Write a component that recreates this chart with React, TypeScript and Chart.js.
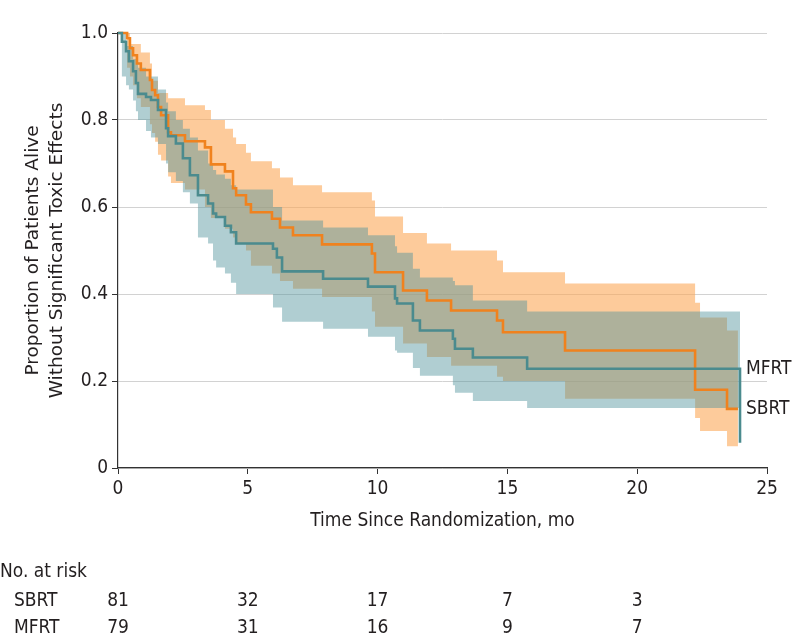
import React, { useEffect, useRef } from 'react';
import { Chart, registerables } from 'chart.js';

Chart.register(...registerables);

// ---------- data ----------
const xTickValues = [0, 5, 10, 15, 20, 25];
const xTickLabels = ['0', '5', '10', '15', '20', '25'];
const yTickValues = [0, 0.2, 0.4, 0.6, 0.8, 1.0];
const yTickLabels = ['0', '0.2', '0.4', '0.6', '0.8', '1.0'];

const xTitle = 'Time Since Randomization, mo';
const yTitle = ['Proportion of Patients Alive', 'Without Significant Toxic Effects'];

// SBRT (orange)
const sbrtTimes = [0, 0.35, 0.46, 0.58, 0.73, 0.88, 1.23, 1.31, 1.43, 1.54, 1.66, 1.93, 2.04, 2.58, 3.35, 3.58, 4.12, 4.43, 4.55, 4.93, 5.12, 5.93, 6.24, 6.74, 7.86, 9.78, 9.9, 10.98, 11.9, 12.83, 14.6, 14.83, 17.22, 22.23, 22.42, 23.46, 23.88];
const sbrtSurvival = [1.0, 0.988, 0.965, 0.949, 0.93, 0.915, 0.892, 0.869, 0.857, 0.83, 0.811, 0.772, 0.765, 0.751, 0.737, 0.698, 0.682, 0.643, 0.627, 0.606, 0.588, 0.573, 0.553, 0.535, 0.514, 0.493, 0.45, 0.408, 0.385, 0.362, 0.339, 0.312, 0.27, 0.18, 0.18, 0.136, 0.136];
const sbrtUpper = [1.0, 1.0, 0.975, 0.975, 0.975, 0.955, 0.93, 0.89, 0.89, 0.862, 0.862, 0.85, 0.85, 0.834, 0.823, 0.8, 0.78, 0.76, 0.745, 0.725, 0.705, 0.689, 0.668, 0.65, 0.634, 0.615, 0.578, 0.54, 0.516, 0.5, 0.477, 0.45, 0.424, 0.38, 0.346, 0.316, 0.316];
const sbrtLower = [1.0, 0.92, 0.9, 0.88, 0.85, 0.83, 0.79, 0.77, 0.75, 0.72, 0.707, 0.67, 0.655, 0.64, 0.6, 0.575, 0.55, 0.53, 0.515, 0.5, 0.465, 0.447, 0.43, 0.412, 0.393, 0.36, 0.325, 0.286, 0.255, 0.235, 0.21, 0.2, 0.159, 0.115, 0.085, 0.05, 0.05];

// MFRT (teal)
const mfrtTimes = [0, 0.15, 0.31, 0.42, 0.58, 0.69, 0.77, 1.08, 1.27, 1.54, 1.85, 1.93, 2.23, 2.5, 2.77, 3.08, 3.47, 3.66, 3.78, 4.12, 4.35, 4.55, 5.97, 6.12, 6.32, 7.9, 9.63, 10.67, 10.75, 11.36, 11.63, 12.9, 12.98, 13.67, 15.76, 23.96];
const mfrtSurvival = [1.0, 0.98, 0.958, 0.935, 0.912, 0.885, 0.86, 0.853, 0.846, 0.823, 0.781, 0.763, 0.746, 0.712, 0.673, 0.627, 0.608, 0.585, 0.577, 0.557, 0.542, 0.516, 0.504, 0.484, 0.452, 0.435, 0.417, 0.39, 0.378, 0.339, 0.316, 0.297, 0.274, 0.254, 0.228, 0.058];
const mfrtUpper = [1.0, 1.0, 0.97, 0.97, 0.94, 0.94, 0.92, 0.9, 0.9, 0.87, 0.84, 0.82, 0.8, 0.78, 0.76, 0.73, 0.7, 0.685, 0.675, 0.665, 0.65, 0.64, 0.6, 0.6, 0.569, 0.553, 0.535, 0.51, 0.495, 0.458, 0.438, 0.43, 0.42, 0.385, 0.36, 0.36];
const mfrtLower = [1.0, 0.9, 0.88, 0.87, 0.845, 0.82, 0.8, 0.775, 0.76, 0.745, 0.7, 0.68, 0.66, 0.634, 0.608, 0.53, 0.516, 0.477, 0.461, 0.447, 0.426, 0.4, 0.369, 0.369, 0.336, 0.32, 0.302, 0.27, 0.265, 0.23, 0.212, 0.19, 0.173, 0.154, 0.138, 0.138];

// Number at risk
const riskTimes = [0, 5, 10, 15, 20];
const riskHeader = 'No. at risk';
const groupNames = ['SBRT', 'MFRT'];
const sbrtAtRisk = [81, 32, 17, 7, 3];
const mfrtAtRisk = [79, 31, 16, 9, 7];

// ---------- styles ----------
const FONT = "'DejaVu Sans Condensed', 'DejaVu Sans', sans-serif";
const TITLE_FONT = "'DejaVu Sans', sans-serif";
const FS = 19;
const TEXT = '#231f20';
const ORANGE = '#f0821e';
const TEAL = '#4b8b8e';
const ORANGE_BAND = 'rgba(252,168,88,0.6)';
const TEAL_BAND = 'rgba(83,148,157,0.46)';

const pts = (xs: number[], ys: number[]) => xs.map((x, i) => ({ x, y: ys[i] }));

const annotations = {
  id: 'kmAnnotations',
  afterDraw(chart: any) {
    const { ctx, scales, chartArea } = chart;
    const xs = scales.x;
    const ys = scales.y;
    ctx.save();
    ctx.fillStyle = TEXT;
    ctx.font = `${FS}px ${FONT}`;
    ctx.textBaseline = 'middle';

    // curve end labels
    ctx.textAlign = 'left';
    const mLast = mfrtTimes.length - 1;
    const endX = xs.getPixelForValue(mfrtTimes[mLast]) + 6;
    ctx.fillText(groupNames[1], endX, ys.getPixelForValue(mfrtSurvival[mLast - 1]));
    const sLast = sbrtTimes.length - 1;
    ctx.fillText(groupNames[0], endX, ys.getPixelForValue(sbrtSurvival[sLast]));

    // risk table
    const base = chartArea.bottom;
    ctx.fillText(riskHeader, 0, base + 104);
    ctx.fillText(groupNames[0], 14, base + 133);
    ctx.fillText(groupNames[1], 14, base + 160);
    ctx.textAlign = 'center';
    riskTimes.forEach((t, i) => {
      const px = xs.getPixelForValue(t);
      ctx.fillText(String(sbrtAtRisk[i]), px, base + 133);
      ctx.fillText(String(mfrtAtRisk[i]), px, base + 160);
    });
    ctx.restore();
  },
};

export default function App() {
  const ref = useRef<HTMLCanvasElement>(null);
  useEffect(() => {
    document.body.style.margin = '0';
    document.body.style.overflow = 'hidden';
    const bandCommon = { borderWidth: 0, pointRadius: 0, stepped: true as const, tension: 0 };
    const chart = new Chart(ref.current as HTMLCanvasElement, {
      type: 'line',
      data: {
        datasets: [
          { ...bandCommon, label: 'SBRT upper', data: pts(sbrtTimes, sbrtUpper), fill: '+1', backgroundColor: ORANGE_BAND, borderColor: 'transparent', order: 10 },
          { ...bandCommon, label: 'SBRT lower', data: pts(sbrtTimes, sbrtLower), fill: false, borderColor: 'transparent', order: 10 },
          { ...bandCommon, label: 'MFRT upper', data: pts(mfrtTimes, mfrtUpper), fill: '+1', backgroundColor: TEAL_BAND, borderColor: 'transparent', order: 9 },
          { ...bandCommon, label: 'MFRT lower', data: pts(mfrtTimes, mfrtLower), fill: false, borderColor: 'transparent', order: 9 },
          { label: 'SBRT', data: pts(sbrtTimes, sbrtSurvival), stepped: true, borderColor: ORANGE, borderWidth: 2.6, pointRadius: 0, fill: false, order: 2, clip: 4 },
          { label: 'MFRT', data: pts(mfrtTimes, mfrtSurvival), stepped: true, borderColor: TEAL, borderWidth: 2.6, pointRadius: 0, fill: false, order: 1, clip: 4 },
        ],
      },
      options: {
        animation: false,
        responsive: true,
        maintainAspectRatio: false,
        layout: { padding: { left: 0, right: 31, top: 33, bottom: 101 } },
        plugins: { legend: { display: false }, tooltip: { enabled: false } },
        scales: {
          x: {
            type: 'linear',
            min: 0,
            max: 25,
            afterBuildTicks: (s: any) => { s.ticks = xTickValues.map((v) => ({ value: v })); },
            afterFit: (s: any) => { s.height = 64; },
            ticks: {
              callback: (v: any, i: number) => xTickLabels[i] ?? String(v),
              font: { family: FONT, size: FS },
              color: TEXT,
              padding: 4,
              maxRotation: 0,
              autoSkip: false,
            },
            grid: { drawOnChartArea: false, drawTicks: true, tickLength: 6, tickColor: '#333', color: '#333' },
            border: { color: '#333', width: 1.2 },
            title: { display: true, text: xTitle, font: { family: FONT, size: FS, lineHeight: 1.2 }, color: TEXT, padding: { top: 0, bottom: 0 } },
          },
          y: {
            type: 'linear',
            min: 0,
            max: 1,
            afterBuildTicks: (s: any) => { s.ticks = yTickValues.map((v) => ({ value: v })); },
            afterFit: (s: any) => { s.width = 118; },
            ticks: {
              callback: (v: any, i: number) => yTickLabels[i] ?? String(v),
              font: { family: FONT, size: FS },
              color: TEXT,
              padding: 4,
              autoSkip: false,
            },
            grid: { color: '#d2d2d2', lineWidth: 1, tickColor: '#333', tickLength: 6 },
            border: { color: '#333', width: 1.2 },
            title: { display: true, text: yTitle, font: { family: TITLE_FONT, size: 18.5, lineHeight: 1.3 }, color: TEXT, padding: { top: 21, bottom: 0 } },
          },
        },
      },
      plugins: [annotations],
    } as any);
    return () => chart.destroy();
  }, []);
  return (
    <div style={{ width: 798, height: 633, position: 'relative' }}>
      <canvas ref={ref} />
    </div>
  );
}
